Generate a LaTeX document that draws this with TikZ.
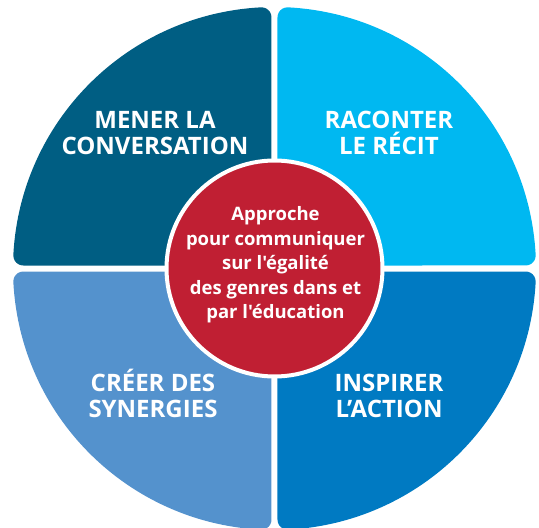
\documentclass[tikz,border=0pt]{standalone}
\usepackage{fontspec}
\setmainfont{Open Sans}[Ligatures=TeXOff]
\usepackage{tikz}

\definecolor{convblue}{RGB}{0,94,131}
\definecolor{recitblue}{RGB}{0,184,241}
\definecolor{synblue}{RGB}{84,146,205}
\definecolor{actblue}{RGB}{0,122,194}
\definecolor{hubred}{RGB}{192,31,51}

% one quarter of the wheel, drawn in the upper right and turned
\newcommand{\petal}[2]{%
  \begin{scope}[rotate=#1]
    \fill[#2] (3pt,3pt) -- (3pt,\yc pt)
      arc[start angle=180,end angle=\th,radius=10pt]
      arc[start angle=\th,end angle=\thb,radius=261.5pt]
      arc[start angle=\thb,end angle=-90,radius=10pt] -- cycle;
  \end{scope}}

\begin{document}
\begin{tikzpicture}[x=1pt,y=1pt,
    every node/.style={text=white,align=center,inner sep=0pt},
    quadlabel/.style={font=\bfseries\fontsize{24}{26}\selectfont},
    hub/.style={circle,fill=hubred,draw=white,line width=4pt,minimum size=216pt},
    hubtext/.style={font=\bfseries\fontsize{18.5}{24.5}\selectfont}]
  \useasboundingbox (-274.5,-259.5) rectangle (264.5,268.5);
  \pgfmathsetmacro\yc{100*sqrt(2.515*2.515-0.13*0.13)}
  \pgfmathsetmacro\th{acos(13/251.5)}
  \pgfmathsetmacro\thb{90-\th}
  \petal{0}{recitblue}
  \petal{90}{convblue}
  \petal{180}{synblue}
  \petal{270}{actblue}

  \node[quadlabel] (conv) at (-119.5,135) {MENER LA\\CONVERSATION};
  \node[quadlabel] (recit) at (114.5,136) {RACONTER\\LE RÉCIT};
  \node[quadlabel] (synergies) at (-121.5,-125) {CRÉER DES\\SYNERGIES};
  \node[quadlabel] (action) at (114.5,-127.5) {INSPIRER\\L’ACTION};

  \node[hub] (hub) at (0,0) {};
  \node[hubtext] (approche) at (1,3.5) {Approche\\pour communiquer\\sur l'égalité\\des genres dans et\\par l'éducation};
\end{tikzpicture}
\end{document}
